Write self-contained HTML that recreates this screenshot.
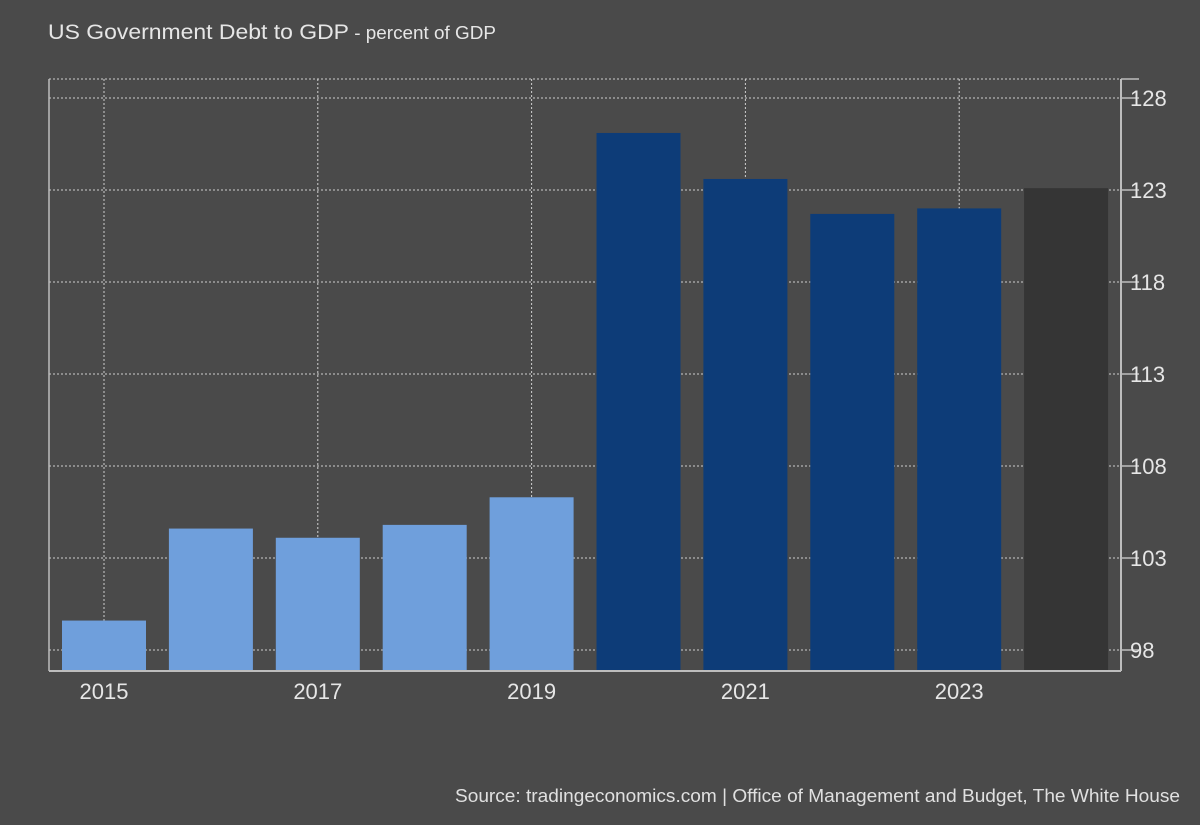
<!DOCTYPE html>
<html><head><meta charset="utf-8"><style>
body{margin:0;background:#4a4a4a;font-family:"Liberation Sans",sans-serif}
svg text{font-family:"Liberation Sans",sans-serif}
</style></head><body>
<svg id="c" width="1200" height="820">
<rect width="1200" height="820" fill="#4a4a4a"/>
<text x="48" y="39" fill="#e6e6e6" font-size="21"><tspan textLength="301" lengthAdjust="spacingAndGlyphs">US Government Debt to GDP</tspan><tspan font-size="18" textLength="147" lengthAdjust="spacingAndGlyphs"> - percent of GDP</tspan></text>
<text x="455" y="802" fill="#e0e0e0" font-size="18" textLength="725" lengthAdjust="spacingAndGlyphs">Source: tradingeconomics.com | Office of Management and Budget, The White House</text>
<g id="grid"></g><g id="bars"></g><g id="axes"></g>
</svg>
<script>
const years=[2015,2016,2017,2018,2019,2020,2021,2022,2023,2024];
const values=[99.6,104.6,104.1,104.8,106.3,126.1,123.6,121.7,122.0,123.1];
const kinds=['a','a','a','a','a','b','b','b','b','f'];
const yTicks=[98,103,108,113,118,123,128];
const xLabels=[2015,2017,2019,2021,2023];
const NS='http://www.w3.org/2000/svg';
const y=v=>650-(v-98)*18.4;
const x=yr=>104+(yr-2015)*106.9;
const colors={a:'#6f9fdc',b:'#0d3c78',f:'#353535'};
function mk(t,a,p){const e=document.createElementNS(NS,t);for(const k in a)e.setAttribute(k,a[k]);p.appendChild(e);return e;}
const g=document.getElementById('grid'),b=document.getElementById('bars'),ax=document.getElementById('axes');
mk('line',{x1:49,x2:1121,y1:79,y2:79,stroke:'#cfcfcf','stroke-dasharray':'2,2'},g);
yTicks.forEach(t=>{
 const l=mk('line',{x1:49,x2:1121,y1:y(t),y2:y(t),stroke:'#cfcfcf','stroke-dasharray':'2,2'},g);
 
 
 const tk=mk('line',{x1:1121,x2:1139,y1:y(t),y2:y(t),stroke:'#bdbdbd','stroke-width':1.5},ax);
 const tx=mk('text',{x:1130,y:y(t)+8,fill:'#e6e6e6','font-size':22},ax);tx.textContent=t;
 
 
});
xLabels.forEach(yr=>{
 const l=mk('line',{x1:x(yr),x2:x(yr),y1:79,y2:670,stroke:'#cfcfcf','stroke-dasharray':'2,2'},g);
 
 
 const tx=mk('text',{x:x(yr),y:699,fill:'#e6e6e6','font-size':22,'text-anchor':'middle'},ax);tx.textContent=yr;
 
 
});
years.forEach((yr,i)=>{
 const r=mk('rect',{x:x(yr)-42,y:y(values[i]),width:84,height:671-y(values[i]),fill:colors[kinds[i]]},b);
 
 
});
mk('line',{x1:49,x2:49,y1:79,y2:671,stroke:'#bdbdbd','stroke-width':1.5},ax);
mk('line',{x1:49,x2:1121,y1:671,y2:671,stroke:'#bdbdbd','stroke-width':2},ax);
mk('line',{x1:1121,x2:1121,y1:79,y2:671,stroke:'#bdbdbd','stroke-width':2},ax);
mk('line',{x1:1121,x2:1139,y1:79,y2:79,stroke:'#bdbdbd','stroke-width':1.5},ax);
</script>
</body></html>
